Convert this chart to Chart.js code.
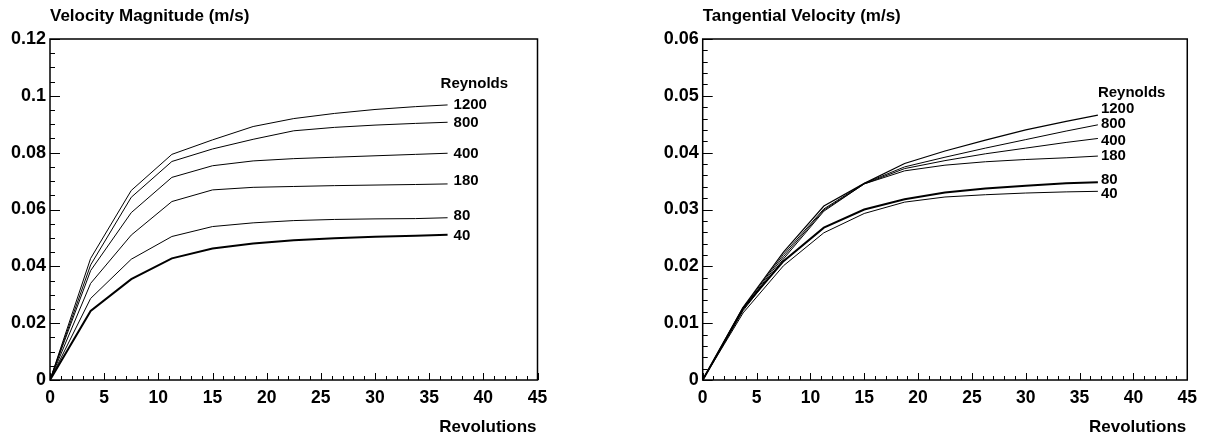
<!DOCTYPE html>
<html>
<head>
<meta charset="utf-8">
<title>Velocity vs Revolutions</title>
<script src="https://cdn.jsdelivr.net/npm/chart.js@4.4.0/dist/chart.umd.min.js"></script>
<style>
  html, body { margin: 0; padding: 0; background: #fff; }
  #wrap { position: relative; width: 1205px; height: 439px; }
  .box { position: absolute; top: 0; height: 439px; }
  #left { left: 0; width: 600px; }
  #right { left: 600px; width: 605px; }
</style>
</head>
<body>
<div id="wrap">
  <div class="box" id="left"><canvas id="velChart" width="600" height="439"></canvas></div>
  <div class="box" id="right"><canvas id="tanChart" width="605" height="439"></canvas></div>
</div>
<script>
// sample positions (revolutions) shared by every curve
const revolutions = [0, 3.75, 7.5, 11.25, 15, 18.75, 22.5, 26.25, 30, 33.75, 36.7];
const reynolds = ["1200", "800", "400", "180", "80", "40"];

// Velocity magnitude (m/s), one array per Reynolds number
const vel1200 = [0, 0.0428, 0.0667, 0.0794, 0.0845, 0.0892, 0.0920, 0.0938, 0.0952, 0.0962, 0.0968];
const vel800  = [0, 0.0405, 0.0643, 0.0769, 0.0813, 0.0847, 0.0877, 0.0889, 0.0897, 0.0903, 0.0907];
const vel400  = [0, 0.0385, 0.0589, 0.0713, 0.0754, 0.0771, 0.0779, 0.0784, 0.0789, 0.0794, 0.0798];
const vel180  = [0, 0.0340, 0.0510, 0.0628, 0.0669, 0.0678, 0.0681, 0.0684, 0.0686, 0.0688, 0.0690];
const vel80   = [0, 0.0287, 0.0425, 0.0505, 0.0540, 0.0553, 0.0561, 0.0565, 0.0567, 0.0568, 0.0571];
const vel40   = [0, 0.0243, 0.0355, 0.0428, 0.0463, 0.0480, 0.0492, 0.0499, 0.0504, 0.0508, 0.0511];

// Tangential velocity (m/s)
const tan1200 = [0, 0.0128, 0.0225, 0.0306, 0.0346, 0.0381, 0.0403, 0.0422, 0.0440, 0.0455, 0.0466];
const tan800  = [0, 0.0127, 0.0221, 0.0301, 0.0346, 0.0375, 0.0392, 0.0408, 0.0423, 0.0438, 0.0449];
const tan400  = [0, 0.0125, 0.0217, 0.0299, 0.0345, 0.0372, 0.0386, 0.0398, 0.0408, 0.0418, 0.0425];
const tan180  = [0, 0.0122, 0.0213, 0.0297, 0.0345, 0.0368, 0.0378, 0.0384, 0.0388, 0.0391, 0.0394];
const tan80   = [0, 0.0126, 0.0209, 0.0268, 0.0300, 0.0318, 0.0330, 0.0337, 0.0342, 0.0346, 0.0348];
const tan40   = [0, 0.0118, 0.0201, 0.0259, 0.0293, 0.0313, 0.0322, 0.0326, 0.0329, 0.0331, 0.0332];

const FONT = "'Liberation Sans', Arial, Helvetica, sans-serif";

// frame, inward ticks, titles and end-of-line labels
const framePlugin = {
  id: "frame",
  afterDraw(chart, args, o) {
    const { ctx, chartArea: a, scales: { x, y } } = chart;
    ctx.save();
    ctx.strokeStyle = "#000";
    ctx.lineWidth = 1;

    const nx = Math.round((x.max - x.min) / o.xMinor);
    for (let i = 0; i <= nx; i++) {
      const v = x.min + i * o.xMinor;
      const px = Math.round(x.getPixelForValue(v)) + 0.5;
      const len = i % o.xEvery === 0 ? 7 : 4;
      ctx.beginPath(); ctx.moveTo(px, a.bottom); ctx.lineTo(px, a.bottom - len); ctx.stroke();
    }
    const ny = Math.round((y.max - y.min) / o.yMinor);
    for (let i = 0; i <= ny; i++) {
      const v = y.min + i * o.yMinor;
      const py = Math.round(y.getPixelForValue(v)) + 0.5;
      const len = i % o.yEvery === 0 ? 10 : 5;
      ctx.beginPath(); ctx.moveTo(a.left, py); ctx.lineTo(a.left + len, py); ctx.stroke();
    }

    ctx.lineWidth = 1.5;
    ctx.strokeRect(a.left, a.top, a.right - a.left, a.bottom - a.top);

    ctx.fillStyle = "#000";
    ctx.font = "bold 17px " + FONT;
    ctx.textBaseline = "alphabetic";
    ctx.textAlign = "left";
    ctx.fillText(o.title, a.left, 21);
    ctx.textAlign = "right";
    ctx.fillText("Revolutions", a.right - 1, 432);

    ctx.font = "bold 15px " + FONT;
    ctx.textAlign = "left";
    ctx.textBaseline = "middle";
    chart.data.datasets.forEach((ds, i) => {
      const pts = chart.getDatasetMeta(i).data;
      const last = pts[pts.length - 1];
      const ly = last.y + (o.nudge[i] || 0);
      ctx.fillText(ds.label, last.x + o.labelDx, ly);
      if (i === 0) ctx.fillText("Reynolds", last.x + o.headDx, ly - o.headDy);
    });
    ctx.restore();
  }
};

function makeChart(id, series, widths, yMax, yStep, opts) {
  const datasets = series.map((vals, i) => ({
    label: reynolds[i],
    data: vals.map((v, j) => ({ x: revolutions[j], y: v })),
    borderColor: "#000",
    borderWidth: widths[i],
    pointRadius: 0,
    tension: 0,
    fill: false
  }));
  return new Chart(document.getElementById(id), {
    type: "line",
    data: { datasets },
    plugins: [framePlugin],
    options: {
      responsive: false,
      animation: false,
      layout: { padding: { top: 39, right: opts.padRight, left: 0, bottom: 0 } },
      plugins: {
        legend: { display: false },
        tooltip: { enabled: false },
        frame: opts.frame
      },
      scales: {
        x: {
          type: "linear", min: 0, max: 45,
          grid: { display: false, drawTicks: false },
          border: { display: false },
          ticks: { stepSize: 5, color: "#000", padding: 8, maxRotation: 0,
                   font: { family: FONT, size: 17.5, weight: "bold" } },
          afterFit(s) { s.height = 59; }
        },
        y: {
          min: 0, max: yMax,
          grid: { display: false, drawTicks: false },
          border: { display: false },
          ticks: { stepSize: yStep, color: "#000", padding: 4,
                   font: { family: FONT, size: 18, weight: "bold" },
                   callback: v => String(+v.toFixed(4)) },
          afterFit(s) { s.width = opts.axisWidth; }
        }
      }
    }
  });
}

makeChart("velChart",
  [vel1200, vel800, vel400, vel180, vel80, vel40],
  [1, 1, 1, 1, 1, 2],
  0.12, 0.02,
  { padRight: 62.5, axisWidth: 50,
    frame: { title: "Velocity Magnitude (m/s)", xMinor: 1, xEvery: 5, yMinor: 0.005, yEvery: 4,
             labelDx: 6, headDx: -7, headDy: 21, nudge: [0, 1, 1, -3, -2, 1] } });

makeChart("tanChart",
  [tan1200, tan800, tan400, tan180, tan80, tan40],
  [1.2, 1, 1, 1, 2, 1],
  0.06, 0.01,
  { padRight: 15, axisWidth: 102.7,
    frame: { title: "Tangential Velocity (m/s)", xMinor: 1, xEvery: 5, yMinor: 0.002, yEvery: 5,
             labelDx: 3, headDx: 0, headDy: 16, nudge: [-6, -1, 2, 0, -2, 3] } });
</script>
</body>
</html>
